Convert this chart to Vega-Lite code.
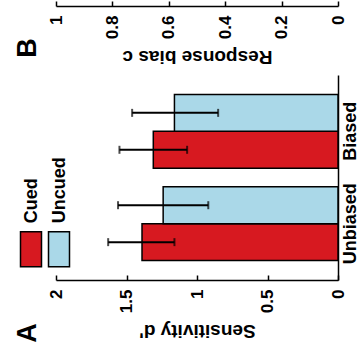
{
  "$schema": "https://vega.github.io/schema/vega-lite/v6.json",
  "padding": {"left": 14, "top": 0, "right": 0, "bottom": 0},
  "bounds": "flush",
  "spacing": 69,
  "config": {
    "font": "Liberation Sans",
    "view": {"stroke": null},
    "axis": {
      "domainColor": "black", "domainWidth": 1.5, "tickColor": "black", "tickWidth": 1.5,
      "labelColor": "black", "titleColor": "black", "labelFont": "Liberation Sans", "titleFont": "Liberation Sans",
      "labelFontWeight": "bold", "titleFontWeight": "bold", "grid": false
    },
    "title": {"font": "Liberation Sans", "fontWeight": "bold", "fontSize": 27, "color": "black"}
  },
  "vconcat": [
    {
      "width": 282,
      "height": 4,
      "title": {"text": "B", "orient": "bottom", "anchor": "start", "angle": -90, "dx": 12, "dy": -32},
      "data": {"values": [{"c": 0}, {"c": 1}]},
      "mark": {"type": "point", "opacity": 0},
      "encoding": {
        "x": {
          "field": "c", "type": "quantitative",
          "scale": {"domain": [0, 1], "reverse": true, "nice": false},
          "axis": {
            "title": "Response bias c", "values": [0, 0.2, 0.4, 0.6, 0.8, 1], "format": "~g",
            "labelAngle": -90, "labelFontSize": 17, "tickSize": -5, "labelPadding": 14,
            "titleAngle": 180, "titleFontSize": 19, "titleBaseline": "bottom", "titlePadding": 8
          }
        }
      }
    },
    {
      "width": 282,
      "height": 205,
      "title": {"text": "A", "orient": "bottom", "anchor": "start", "angle": -90, "dx": 1, "dy": -32},
      "data": {"values": [
        {"condition": "Unbiased", "cue": "Cued", "dprime": 1.39, "lo": 1.16, "hi": 1.63},
        {"condition": "Unbiased", "cue": "Uncued", "dprime": 1.24, "lo": 0.92, "hi": 1.56},
        {"condition": "Biased", "cue": "Cued", "dprime": 1.31, "lo": 1.07, "hi": 1.55},
        {"condition": "Biased", "cue": "Uncued", "dprime": 1.16, "lo": 0.85, "hi": 1.46}
      ]},
      "encoding": {
        "y": {
          "field": "condition", "type": "nominal", "sort": ["Biased", "Unbiased"],
          "scale": {"paddingInner": 0.2, "paddingOuter": 0.21},
          "axis": {"orient": "right", "title": null, "ticks": false, "labelAngle": -90, "labelFontSize": 18, "labelPadding": 3}
        },
        "yOffset": {"field": "cue", "type": "nominal", "sort": ["Uncued", "Cued"]}
      },
      "layer": [
        {
          "mark": {"type": "bar", "stroke": "black", "strokeWidth": 1.5},
          "encoding": {
            "x": {
              "field": "dprime", "type": "quantitative",
              "scale": {"domain": [0, 2], "reverse": true, "nice": false},
              "axis": {
                "title": "Sensitivity d'", "values": [0, 0.5, 1, 1.5, 2], "format": "~g",
                "labelAngle": -90, "labelFontSize": 17, "tickSize": -5, "labelPadding": 14,
                "titleAngle": 180, "titleFontSize": 19, "titleBaseline": "bottom", "titlePadding": 8
              }
            },
            "color": {
              "field": "cue", "type": "nominal",
              "scale": {"domain": ["Cued", "Uncued"], "range": ["#d71920", "#aad8e8"]},
              "legend": {
                "orient": "none", "legendX": -38, "legendY": 234, "direction": "horizontal", "title": null,
                "symbolType": "M-0.875,-1.458H0.875V1.458H-0.875Z", "symbolSize": 576, "symbolStrokeColor": "black",
                "symbolStrokeWidth": 1.5, "symbolOpacity": 1, "labelFontSize": 18, "labelFontWeight": "bold",
                "labelColor": "black", "labelOffset": 0, "padding": 0, "columnPadding": 0,
                "encoding": {"labels": {"angle": {"value": -90}, "dx": {"value": 26}, "dy": {"value": -12}}}
              }
            }
          }
        },
        {
          "mark": {"type": "rule", "color": "black", "strokeWidth": 2},
          "encoding": {"x": {"field": "lo", "type": "quantitative"}, "x2": {"field": "hi"}}
        },
        {
          "mark": {"type": "tick", "color": "black", "size": 8, "thickness": 2},
          "encoding": {"x": {"field": "lo", "type": "quantitative"}}
        },
        {
          "mark": {"type": "tick", "color": "black", "size": 8, "thickness": 2},
          "encoding": {"x": {"field": "hi", "type": "quantitative"}}
        }
      ]
    }
  ]
}
